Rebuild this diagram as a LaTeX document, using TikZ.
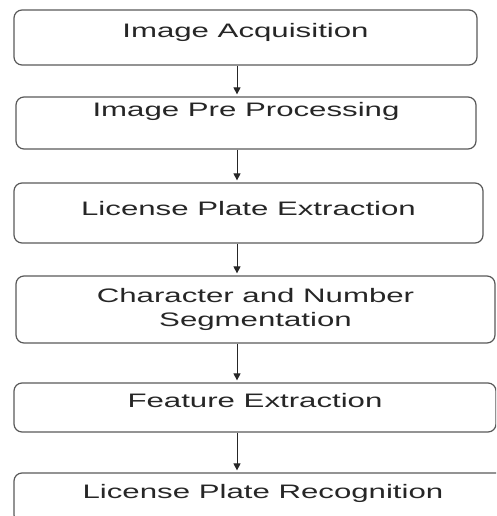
\documentclass[tikz,border=0pt]{standalone}
\usepackage{fontspec}
\setmainfont{Liberation Sans}
\usepackage{graphicx}
\usetikzlibrary{arrows.meta}
\newcommand{\wide}[1]{\scalebox{1.6}[1]{#1}}

\begin{document}
\begin{tikzpicture}[x=1pt, y=-1pt,
    stage/.style ={draw=black!65, line width=1.2pt, rounded corners=8pt, inner sep=0pt,
      font=\fontsize{19.5}{24}\selectfont, text=black!85, text height=7pt, text depth=7pt},
    flow/.style ={line width=0.9pt, draw=black!85, shorten >=2pt,
      -{Triangle[width=7pt,length=7pt]}}]
   \useasboundingbox (0,0) rectangle (496,516);
   \clip (0,0) rectangle (496,516);
   \coordinate (axis) at (237,0);

   \node[stage, minimum width=463pt, minimum height=55pt] (acq)  at (245.5,37.5) {\wide{Image Acquisition}};
   \node[stage, minimum width=460pt, minimum height=52pt, text depth=19pt] (pre)  at (246,123) {\wide{Image Pre Processing}};
   \node[stage, minimum width=469pt, minimum height=60pt, text height=9pt, text depth=5pt] (plate) at (248.5,213) {\wide{License Plate Extraction}};
   \node[stage, minimum width=479pt, minimum height=67pt, text height=, text depth=, align=center] (seg)  at (255.5,309.5) {\wide{Character and Number}\\ \wide{Segmentation}};
   \node[stage, minimum width=482pt, minimum height=49pt] (feat) at (255,407.5) {\wide{Feature Extraction}};
   \node[stage, minimum width=498pt, minimum height=50pt] (recog) at (263,498) {\wide{License Plate Recognition}};

   \draw[flow] (acq.south -| axis) to (pre.north -| axis);
   \draw[flow] (pre.south -| axis) to (plate.north -| axis);
   \draw[flow] (plate.south -| axis) to (seg.north -| axis);
   \draw[flow] (seg.south -| axis) to (feat.north -| axis);
   \draw[flow] (feat.south -| axis) to (recog.north -| axis);
\end{tikzpicture}
\end{document}
